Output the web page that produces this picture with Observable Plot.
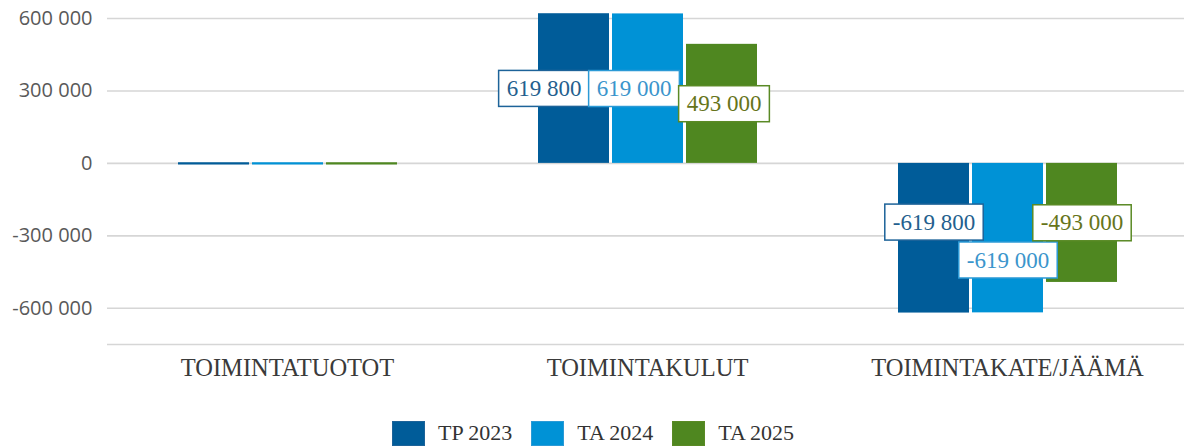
<!DOCTYPE html>
<html>
<head>
<meta charset="utf-8">
<script src="https://cdn.jsdelivr.net/npm/d3@7"></script>
<script src="https://cdn.jsdelivr.net/npm/@observablehq/plot@0.6"></script>
<style>
  html, body { margin: 0; padding: 0; background: #fff; }
  #chart svg { display: block; overflow: visible; }
  #legend { display: flex; align-items: center; margin-top: 20px; padding-left: 392px;
    font-family: "Liberation Serif", serif; font-size: 22px; color: #333; }
  #legend .item { display: flex; align-items: center; margin-right: 19px; }
  #legend .sw { width: 33px; height: 25px; margin-right: 13px; box-sizing: border-box; }
</style>
</head>
<body>
<div id="chart"></div>
<div id="legend"></div>
<script>
// ---- data ----
const categories = ["TOIMINTATUOTOT", "TOIMINTAKULUT", "TOIMINTAKATE/JÄÄMÄ"];
const seriesNames = ["TP 2023", "TA 2024", "TA 2025"];
const tp2023 = [0, 619800, -619800];
const ta2024 = [0, 619000, -619000];
const ta2025 = [0, 493000, -493000];
const yTicks = [-600000, -300000, 0, 300000, 600000];

// ---- styles ----
const barColors = ["#005c99", "#0092d6", "#4f8720"];
const labelText = ["#245f8e", "#3b95cc", "#66741a"];
const labelBorder = ["#1d6399", "#2b9ad6", "#5a8a25"];
// label nudges (px) used to avoid overlapping data labels, keyed by category|series
const LABEL_NUDGE = {
  "TOIMINTAKULUT|TP 2023": [-30, 0],
  "TOIMINTAKULUT|TA 2024": [-14, 0],
  "TOIMINTAKULUT|TA 2025": [2, 0],
  "TOIMINTAKATE/JÄÄMÄ|TP 2023": [0, -16],
  "TOIMINTAKATE/JÄÄMÄ|TA 2024": [0, 22],
  "TOIMINTAKATE/JÄÄMÄ|TA 2025": [0, 0]
};

const seriesValues = [tp2023, ta2024, ta2025];
const rows = [];
categories.forEach((c, i) => {
  seriesNames.forEach((s, j) => {
    rows.push({category: c, series: s, si: j, value: seriesValues[j][i]});
  });
});

const fmt = d => d3.format(",")(d).replace(/,/g, "\u00a0").replace("\u2212", "-");

const labelRows = rows.filter(d => d.value !== 0);
const labelMarks = labelRows.map(d => {
  const n = LABEL_NUDGE[d.category + "|" + d.series] || [0, 0];
  return Plot.text([d], {
    fx: "category", x: "series", y: v => v.value / 2,
    text: v => fmt(v.value),
    fill: labelText[d.si],
    dx: n[0], dy: n[1],
    fontSize: 23, fontFamily: "Liberation Serif, serif",
    textAnchor: "middle", lineAnchor: "middle",
    ariaDescription: "label" + labelBorder[d.si]
  });
});

const chart = Plot.plot({
  width: 1184,
  height: 400,
  marginLeft: 106,
  marginRight: -4,
  marginTop: 18,
  marginBottom: 56,
  style: {background: "#fff"},
  fx: {domain: categories, padding: 0},
  x: {domain: seriesNames, paddingInner: 0.045, paddingOuter: 0.94, axis: null},
  y: {domain: [-750000, 600000], axis: null},
  color: {domain: seriesNames, range: barColors},
  marks: [
    Plot.ruleY(yTicks.concat([-750000]), {stroke: "#d6d6d6", strokeWidth: 1.6}),
    Plot.barY(rows, {fx: "category", x: "series", y: "value", fill: "series"}),
    Plot.tickY(rows.filter(d => d.value === 0), {fx: "category", x: "series", y: "value", stroke: "series", strokeWidth: 2.2}),
    ...labelMarks,
    Plot.axisY({ticks: yTicks, tickFormat: fmt, tickSize: 0, tickPadding: 15,
      fontSize: 20, fontFamily: "Open Sans, sans-serif", fill: "#595959", label: null}),
    Plot.axisFx({anchor: "bottom", tickSize: 0, tickPadding: 14, label: null,
      fontSize: 24.5, fontFamily: "Liberation Serif, serif", fill: "#3a3a3a"})
  ]
});
document.getElementById("chart").appendChild(chart);

// draw white boxes with coloured borders behind the data labels
chart.querySelectorAll('g[aria-description^="label"]').forEach(g => {
  const color = g.getAttribute("aria-description").slice(5) || "#333";
  g.querySelectorAll("text").forEach(t => {
    const b = t.getBBox();
    const r = document.createElementNS("http://www.w3.org/2000/svg", "rect");
    r.setAttribute("x", b.x - 8);
    r.setAttribute("y", b.y + b.height / 2 - 18);
    r.setAttribute("width", b.width + 16);
    r.setAttribute("height", 36);
    r.setAttribute("fill", "#fff");
    r.setAttribute("stroke", color);
    r.setAttribute("stroke-width", 1.5);
    const tr = t.getAttribute("transform");
    if (tr) r.setAttribute("transform", tr);
    t.parentNode.insertBefore(r, t);
  });
});

// legend
const legend = document.getElementById("legend");
seriesNames.forEach((s, j) => {
  const it = document.createElement("div");
  it.className = "item";
  const sw = document.createElement("div");
  sw.className = "sw";
  sw.style.background = barColors[j];
  sw.style.border = "1px solid " + labelBorder[j];
  const tx = document.createElement("span");
  tx.textContent = s;
  it.appendChild(sw); it.appendChild(tx);
  legend.appendChild(it);
});
</script>
</body>
</html>
